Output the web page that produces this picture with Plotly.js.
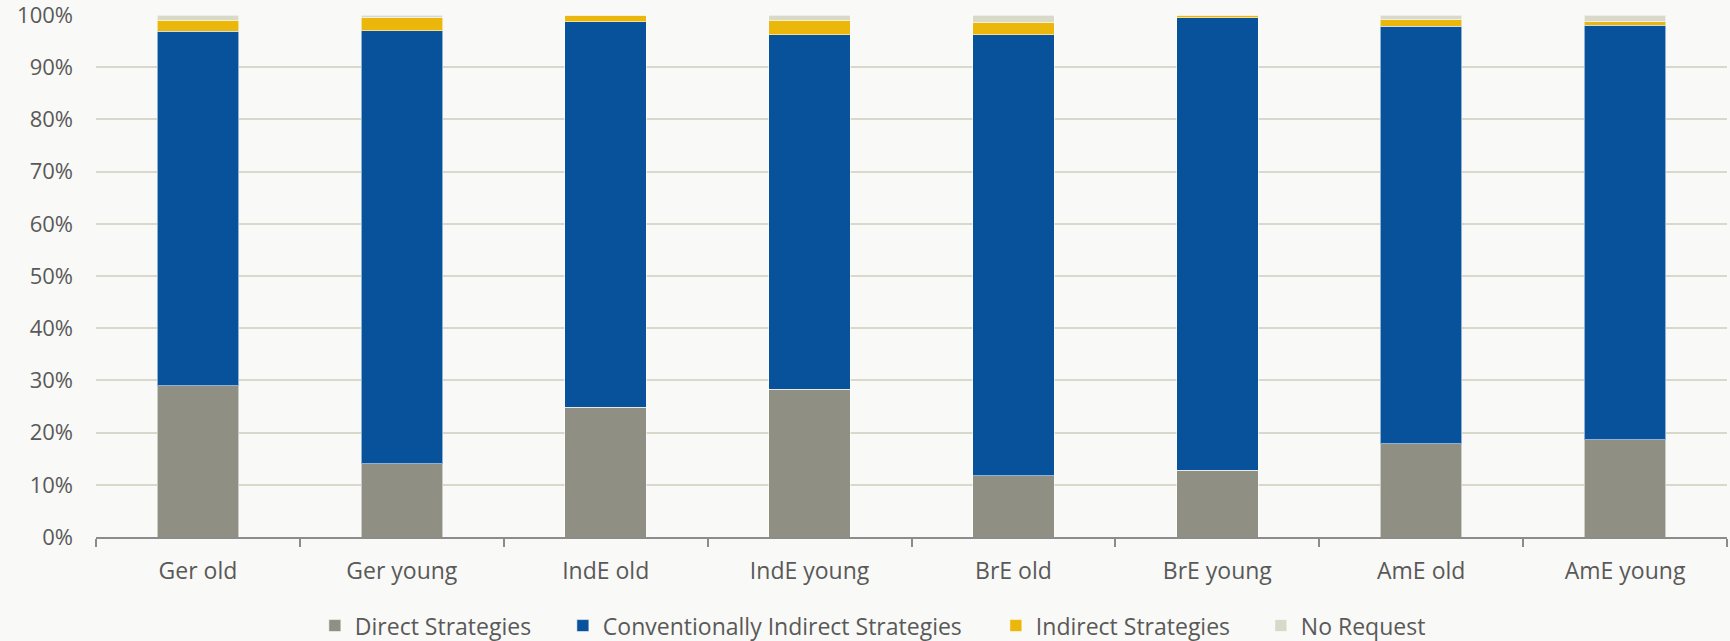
<!DOCTYPE html>
<html>
<head>
<meta charset="utf-8">
<script src="https://cdn.plot.ly/plotly-3.0.1.min.js"></script>
<style>
  html, body { margin: 0; padding: 0; background: #F9F9F7; }
  #chart { width: 1730px; height: 641px; }
</style>
</head>
<body>
<div id="chart"></div>
<script>
// Speaker groups along the x axis
const groups = ['Ger old', 'Ger young', 'IndE old', 'IndE young', 'BrE old', 'BrE young', 'AmE old', 'AmE young'];

// Share of request strategies per group (percent)
const directStrategies = [29.0, 14.0, 24.9, 28.3, 11.7, 12.8, 17.9, 18.6];
const convIndirectStrategies = [67.9, 83.0, 73.8, 67.9, 84.5, 86.7, 79.9, 79.4];
const indirectStrategies = [2.1, 2.5, 1.3, 2.8, 2.4, 0.5, 1.3, 0.7];
const noRequest = [1.0, 0.5, 0.0, 1.0, 1.4, 0.0, 0.9, 1.3];

const seriesNames = ['Direct Strategies', 'Conventionally Indirect Strategies', 'Indirect Strategies', 'No Request'];
const seriesValues = [directStrategies, convIndirectStrategies, indirectStrategies, noRequest];
const seriesColors = ['#8F8F83', '#08529C', '#EBB70B', '#D8D9C9'];
// horizontal room given to each legend entry
const legendWidths = [203, 388, 220, 125];

const yTicks = [0, 10, 20, 30, 40, 50, 60, 70, 80, 90, 100];

const traces = seriesNames.map((name, i) => ({
  type: 'bar',
  name: name,
  x: groups,
  y: seriesValues[i],
  width: 0.4,
  legendwidth: legendWidths[i],
  marker: {
    color: seriesColors[i],
    line: { color: 'rgba(255,255,255,0.55)', width: 1 }
  },
  hovertemplate: '%{x}<br>' + name + ': %{y}%<extra></extra>'
}));

const fontFamily = '"Open Sans", "Noto Sans", sans-serif';
const textColor = '#595959';

const layout = {
  width: 1730,
  height: 641,
  barmode: 'stack',
  paper_bgcolor: '#F9F9F7',
  plot_bgcolor: '#F9F9F7',
  margin: { l: 96, r: 3, t: 15, b: 104 },
  font: { family: fontFamily, size: 22, color: textColor },
  showlegend: true,
  legend: {
    orientation: 'h',
    xref: 'container',
    yref: 'container',
    x: 0.182,
    xanchor: 'left',
    y: 0.024,
    yanchor: 'middle',
    traceorder: 'normal',
    font: { family: fontFamily, size: 23, color: textColor },
    itemwidth: 30,
    bgcolor: 'rgba(0,0,0,0)'
  },
  xaxis: {
    type: 'category',
    range: [-0.5, 7.5],
    showgrid: false,
    showline: true,
    linecolor: '#8C8C8C',
    linewidth: 2,
    ticks: 'outside',
    tickson: 'boundaries',
    ticklen: 8,
    tickwidth: 1.5,
    tickcolor: '#8C8C8C',
    ticklabelstandoff: 12,
    tickfont: { family: fontFamily, size: 23, color: textColor },
    zeroline: false,
    fixedrange: true
  },
  yaxis: {
    range: [0, 100],
    tickvals: yTicks,
    ticktext: yTicks.map(v => v + '%'),
    showgrid: true,
    gridcolor: '#D9D9CB',
    gridwidth: 2,
    showline: false,
    zeroline: false,
    ticks: '',
    ticklabelstandoff: 22,
    ticklabeloverflow: 'allow',
    tickfont: { family: fontFamily, size: 22, color: textColor },
    fixedrange: true
  }
};

Plotly.newPlot('chart', traces, layout, { displayModeBar: false, staticPlot: false });
</script>
</body>
</html>
